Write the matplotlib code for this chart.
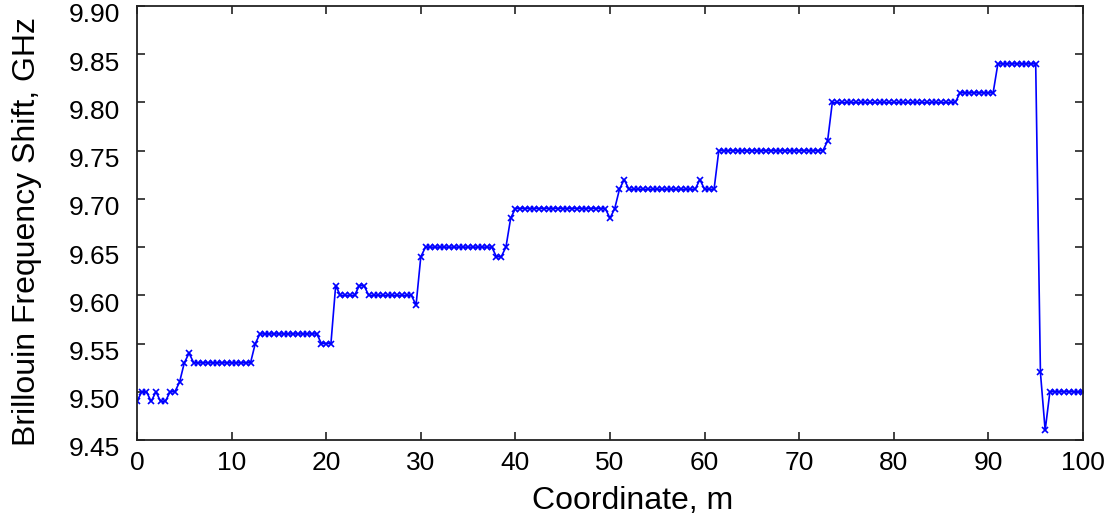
import numpy as np
import matplotlib
matplotlib.use("Agg")
from matplotlib import pyplot as plt
import matplotlib.transforms as mtransforms

plt.rcParams['font.family'] = ['Liberation Sans', 'DejaVu Sans']

# coordinate along the fibre (m), one sample every 0.5 m
coord = np.arange(0, 100.5, 0.5)

# brillouin frequency shift (GHz)
bfs = [
    9.49, 9.50, 9.50, 9.49, 9.50, 9.49, 9.49, 9.50, 9.50, 9.51,
    9.53, 9.54, 9.53, 9.53, 9.53, 9.53, 9.53, 9.53, 9.53, 9.53,
    9.53, 9.53, 9.53, 9.53, 9.53, 9.55, 9.56, 9.56, 9.56, 9.56,
    9.56, 9.56, 9.56, 9.56, 9.56, 9.56, 9.56, 9.56, 9.56, 9.55,
    9.55, 9.55, 9.61, 9.60, 9.60, 9.60, 9.60, 9.61, 9.61, 9.60,
    9.60, 9.60, 9.60, 9.60, 9.60, 9.60, 9.60, 9.60, 9.60, 9.59,
    9.64, 9.65, 9.65, 9.65, 9.65, 9.65, 9.65, 9.65, 9.65, 9.65,
    9.65, 9.65, 9.65, 9.65, 9.65, 9.65, 9.64, 9.64, 9.65, 9.68,
    9.69, 9.69, 9.69, 9.69, 9.69, 9.69, 9.69, 9.69, 9.69, 9.69,
    9.69, 9.69, 9.69, 9.69, 9.69, 9.69, 9.69, 9.69, 9.69, 9.69,
    9.68, 9.69, 9.71, 9.72, 9.71, 9.71, 9.71, 9.71, 9.71, 9.71,
    9.71, 9.71, 9.71, 9.71, 9.71, 9.71, 9.71, 9.71, 9.71, 9.72,
    9.71, 9.71, 9.71, 9.75, 9.75, 9.75, 9.75, 9.75, 9.75, 9.75,
    9.75, 9.75, 9.75, 9.75, 9.75, 9.75, 9.75, 9.75, 9.75, 9.75,
    9.75, 9.75, 9.75, 9.75, 9.75, 9.75, 9.76, 9.80, 9.80, 9.80,
    9.80, 9.80, 9.80, 9.80, 9.80, 9.80, 9.80, 9.80, 9.80, 9.80,
    9.80, 9.80, 9.80, 9.80, 9.80, 9.80, 9.80, 9.80, 9.80, 9.80,
    9.80, 9.80, 9.80, 9.80, 9.81, 9.81, 9.81, 9.81, 9.81, 9.81,
    9.81, 9.81, 9.84, 9.84, 9.84, 9.84, 9.84, 9.84, 9.84, 9.84,
    9.84, 9.52, 9.46, 9.50, 9.50, 9.50, 9.50, 9.50, 9.50, 9.50,
    9.50,
]

xticks = np.arange(0, 101, 10)
yticks = [9.45, 9.50, 9.55, 9.60, 9.65, 9.70, 9.75, 9.80, 9.85, 9.90]

fig = plt.figure(figsize=(11.12, 5.22), dpi=100)
ax = fig.add_axes([137/1112, 82/522, 946/1112, 434/522])

ax.plot(coord, bfs, color="#0000ff", linewidth=1.2, marker="x",
        markersize=5, markeredgewidth=1.2)

ax.set_xlim(0, 100)
ax.set_ylim(9.45, 9.90)
ax.set_xticks(xticks)
ax.set_yticks(yticks)
ax.set_yticklabels(["%.2f" % v for v in yticks])
ax.tick_params(direction="in", length=6, width=1.2, top=True, right=True,
               labelsize=19, color="#222222")
ax.tick_params(axis="x", pad=8)
ax.tick_params(axis="y", pad=12)
for s in ax.spines.values():
    s.set_linewidth(1.3)
    s.set_color("#222222")

# y labels sit a little below their ticks in the original
off = mtransforms.ScaledTranslation(0, -5/72, fig.dpi_scale_trans)
for lab in ax.get_yticklabels():
    lab.set_transform(lab.get_transform() + off)

ax.set_xlabel("Coordinate, m", fontsize=23, labelpad=8)
ax.xaxis.set_label_coords(0.524, -0.105)
ax.set_ylabel("Brillouin Frequency Shift, GHz", fontsize=23)
ax.yaxis.set_label_coords(-0.1, 0.48)

fig.savefig("out.png", dpi=100)
